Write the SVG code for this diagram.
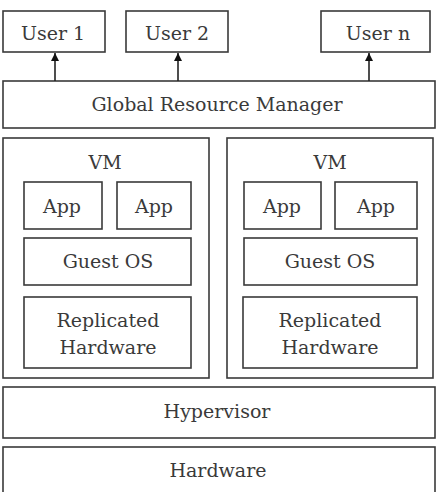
<svg xmlns="http://www.w3.org/2000/svg" width="441" height="492" viewBox="0 0 441 492">
<style>
rect{fill:#fff;stroke:#3a3a3a;stroke-width:1.6}
text{font-family:"DejaVu Serif",serif;font-size:19px;fill:#3a3a3a;text-anchor:middle}
.c{stroke:#222;stroke-width:1.6;fill:none}
</style>
<defs>
<marker id="ah" viewBox="0 0 10 10" refX="10" refY="5" markerWidth="8" markerHeight="8" markerUnits="userSpaceOnUse" orient="auto">
<path d="M0,0 L10,5 L0,10 z" fill="#111"/>
</marker>
</defs>
<rect x="0" y="0" width="441" height="492" style="fill:#fff;stroke:none"/>
<g id="user1"><rect x="3" y="11" width="102" height="41"/><text x="53" y="40">User 1</text></g>
<g id="user2"><rect x="126" y="11" width="102" height="41"/><text x="177" y="40">User 2</text></g>
<g id="usern"><rect x="321" y="11" width="109" height="41"/><text x="378" y="40">User n</text></g>
<g id="grm"><rect x="3" y="81" width="432" height="47"/><text x="217" y="111">Global Resource Manager</text></g>
<g id="vm1">
<rect x="3" y="138" width="206" height="240"/><text x="105" y="169">VM</text>
<g id="vm1-app1"><rect x="24" y="182" width="78" height="47"/><text x="62" y="213">App</text></g>
<g id="vm1-app2"><rect x="117" y="182" width="74" height="47"/><text x="154" y="213">App</text></g>
<g id="vm1-os"><rect x="24" y="238" width="167" height="47"/><text x="108" y="268">Guest OS</text></g>
<g id="vm1-hw"><rect x="24" y="297" width="167" height="71"/><text x="108" y="327">Replicated</text><text x="108" y="354">Hardware</text></g>
</g>
<g id="vm2">
<rect x="227" y="138" width="206" height="240"/><text x="330" y="169">VM</text>
<g id="vm2-app1"><rect x="244" y="182" width="77" height="47"/><text x="282" y="213">App</text></g>
<g id="vm2-app2"><rect x="335" y="182" width="82" height="47"/><text x="376" y="213">App</text></g>
<g id="vm2-os"><rect x="244" y="238" width="173" height="47"/><text x="330" y="268">Guest OS</text></g>
<g id="vm2-hw"><rect x="243" y="297" width="174" height="71"/><text x="330" y="327">Replicated</text><text x="330" y="354">Hardware</text></g>
</g>
<g id="hypervisor"><rect x="3" y="387" width="432" height="51"/><text x="217" y="418">Hypervisor</text></g>
<g id="hardware"><rect x="3" y="447" width="432" height="52"/><text x="218" y="477">Hardware</text></g>
<g id="connectors">
<line class="c" x1="55" y1="81" x2="55" y2="53" marker-end="url(#ah)"/>
<line class="c" x1="178" y1="81" x2="178" y2="53" marker-end="url(#ah)"/>
<line class="c" x1="369" y1="81" x2="369" y2="53" marker-end="url(#ah)"/>
</g>
</svg>
